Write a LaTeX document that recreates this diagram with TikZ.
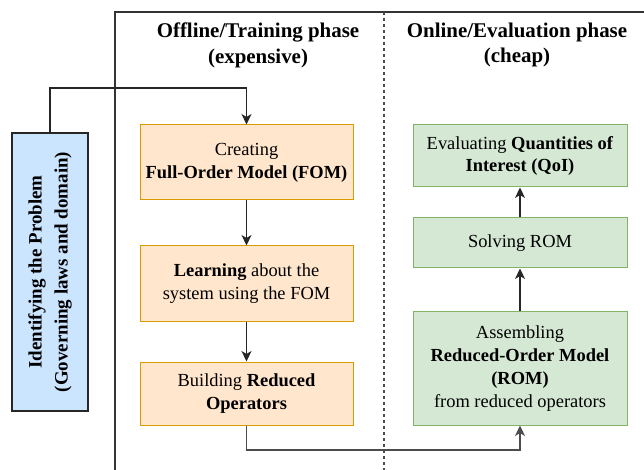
\documentclass[tikz,border=0pt]{standalone}
\usepackage{fontspec}
\setmainfont{Liberation Serif}
\usetikzlibrary{arrows.meta}
\definecolor{offfill}{HTML}{FFE6CC}
\definecolor{offline}{HTML}{D79B00}
\definecolor{onfill}{HTML}{D5E8D4}
\definecolor{online}{HTML}{82B366}
\definecolor{probfill}{HTML}{CCE5FF}
\definecolor{framegray}{HTML}{333333}
\begin{document}
\begin{tikzpicture}[x=1bp,y=-1bp]
		\newcommand{\offx}{246.5} % centre of the offline column
		\newcommand{\onx}{520} % centre of the online column

		% set the styles of the boxes
		\tikzset{
			stage/.style={
				draw=offline,
				fill=offfill,
				line width=1bp,
				minimum width=213bp,
				align=center,
				font=\fontsize{18.5}{23}\selectfont
				},
			evalbox/.style={
				stage,
				draw=online,
				fill=onfill,
				minimum width=214bp
				},
			flow/.style={
				-{Stealth[length=10.5bp,width=10bp,inset=3bp]},
				line width=1.1bp,
				draw=black!85
				},
			heading/.style={
				align=center,
				font=\fontsize{21}{26}\selectfont\bfseries
				}
		}

		\useasboundingbox (0,0) rectangle (644,470);

		% frame
		\draw[framegray, line width=1.2bp] (115,470) -- (115,12) -- (644,12);
		\draw[black!70, line width=1.2bp, dash pattern=on 3bp off 3bp] (384,12) -- (384,470);

		% headings
		\node[heading] (offhead) at (258,45) {Offline/Training phase\\(expensive)};
		\node[heading] (onhead) at (517,45) {Online/Evaluation phase\\(cheap)};

		% problem
		\node[draw=black!85, fill=probfill, line width=1.2bp, rotate=90,
			minimum width=278bp, minimum height=76bp, align=center,
			font=\fontsize{19}{26}\selectfont\bfseries] (problem) at (50,272)
			{Identifying the Problem\\(Governing laws and domain)};

		% offline boxes
		\node[stage, minimum height=75bp] (fom) at (\offx,162.5) {Creating\\\textbf{Full-Order Model (FOM)}};
		\node[stage, minimum height=75bp] (learn) at (\offx,283.5) {\textbf{Learning} about the\\system using the FOM};
		\node[stage, minimum height=63bp] (build) at (\offx,393.5) {Building \textbf{Reduced}\\\textbf{Operators}};

		% online boxes
		\node[evalbox, minimum height=62bp] (qoi) at (\onx,156) {Evaluating \textbf{Quantities of}\\\textbf{Interest (QoI)}};
		\node[evalbox, minimum height=50bp] (solve) at (\onx,243) {Solving ROM};
		\node[evalbox, minimum height=113bp] (rom) at (\onx,368.5) {Assembling\\\textbf{Reduced-Order Model}\\\textbf{(ROM)}\\from reduced operators};

		% arrows
		\coordinate (turn) at (0,88);
		\draw[flow] (problem.east) -- (problem.east |- turn) -- (fom.north |- turn) -- (fom.north);
		\draw[flow] (fom) -- (learn);
		\draw[flow] (learn) -- (build);
		\coordinate (low) at (0,450);
		\draw[flow, draw=black!70] (build.south) -- (build.south |- low) -- (rom.south |- low) -- (rom.south);
		\draw[flow] (rom) -- (solve);
		\draw[flow] (solve) -- (qoi);

\end{tikzpicture}
\end{document}
